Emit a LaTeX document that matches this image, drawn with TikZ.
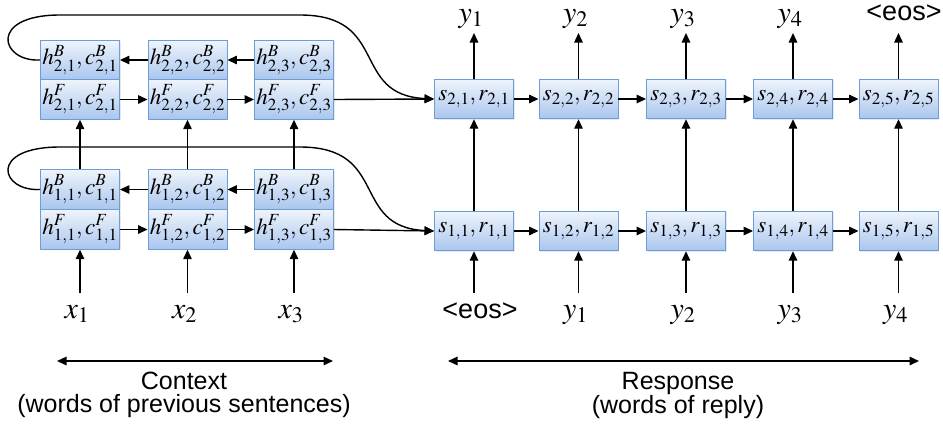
\documentclass[tikz,border=0pt]{standalone}
\usepackage{mathptmx}
\usepackage{fontspec}
\newfontfamily\sansf{Liberation Sans}
\usetikzlibrary{arrows.meta,shadows}
\definecolor{boxtop}{HTML}{EEF4FC}
\definecolor{boxbot}{HTML}{A9C6EE}
\definecolor{boxborder}{HTML}{6C9DD6}
\tikzset{
  cell/.style={draw=boxborder, line width=0.9pt, top color=boxtop, bottom color=boxbot,
    minimum width=79pt, minimum height=39.5pt, inner sep=0pt,
    font=\fontsize{23}{23}\selectfont,
    drop shadow={opacity=0.18, shadow xshift=1.2pt, shadow yshift=-1.2pt}},
  conn/.style={line width=1.4pt, -{Triangle[length=9.5pt,width=8.5pt]}},
  biconn/.style={line width=1.4pt, {Triangle[length=9.5pt,width=8.5pt]}-{Triangle[length=9.5pt,width=8.5pt]}},
  mlab/.style={anchor=base, inner sep=0pt, font=\fontsize{30}{30}\selectfont},
  slab/.style={anchor=base, inner sep=0pt, font=\sansf\fontsize{27}{27}\selectfont},
  captext/.style={anchor=north, inner sep=0pt, align=center, font=\sansf\fontsize{25}{23}\selectfont}
}
\begin{document}
\begin{tikzpicture}[x=1pt,y=-1pt]
\useasboundingbox (0,0) rectangle (943,429);
% left columns
\foreach \i/\x in {1/80,2/187.5,3/294}{
  \node[cell] (hB2\i) at (\x,60) {$h^{B}_{2,\i},c^{B}_{2,\i}$};
  \node[cell] (hF2\i) at (\x,99.5) {$h^{F}_{2,\i},c^{F}_{2,\i}$};
  \node[cell] (hB1\i) at (\x,189.5) {$h^{B}_{1,\i},c^{B}_{1,\i}$};
  \node[cell] (hF1\i) at (\x,229.5) {$h^{F}_{1,\i},c^{F}_{1,\i}$};
  \coordinate (xin\i) at (\x,293);
  \node[mlab] (xl\i) at (\x-3,318) {$x_{\i}$};
}
% right columns
\foreach \j/\x in {1/474,2/578.5,3/686,4/793,5/898.5}{
  \node[cell] (s2\j) at (\x,99) {$s_{2,\j},r_{2,\j}$};
  \node[cell] (s1\j) at (\x,231) {$s_{1,\j},r_{1,\j}$};
  \coordinate (yin\j) at (\x,293);
  \coordinate (yout\j) at (\x,33);
}
% top labels
\node[mlab] (yo1) at (471,22) {$y_{1}$};
\node[mlab] (yo2) at (575.5,22) {$y_{2}$};
\node[mlab] (yo3) at (683,22) {$y_{3}$};
\node[mlab] (yo4) at (790,22) {$y_{4}$};
\node[slab] (yo5) at (904,20) {<eos>};
% bottom labels
\node[slab] (yi1) at (480,318) {<eos>};
\node[mlab] (yi2) at (575.5,318) {$y_{1}$};
\node[mlab] (yi3) at (683,318) {$y_{2}$};
\node[mlab] (yi4) at (790,318) {$y_{3}$};
\node[mlab] (yi5) at (895.5,318) {$y_{4}$};
% left arrows
\foreach \r in {1,2}{
  \draw[conn] (hF\r1.east) -- (hF\r2.west);
  \draw[conn] (hF\r2.east) -- (hF\r3.west);
  \draw[conn] (hB\r2.west) -- (hB\r1.east);
  \draw[conn] (hB\r3.west) -- (hB\r2.east);
}
\foreach \i in {1,2,3}{
  \draw[conn] (hB1\i.north) -- (hF2\i.south);
  \draw[conn] (xin\i) -- (hF1\i.south);
}
% connections context -> response
\draw[conn] (hF23.east) -- (s21.west);
\draw[conn] (hF13.east) -- (s11.west);
\draw[conn] (hB21.west) .. controls (0,62) and (-12,15) .. (60,15) -- (300,15)
  .. controls (390,15) and (350,95) .. (s21.west);
\draw[conn] (hB11.west) .. controls (0,191.5) and (-12,147) .. (60,147) -- (300,147)
  .. controls (390,147) and (350,227) .. (s11.west);
% response arrows
\foreach \a/\b in {1/2,2/3,3/4,4/5}{
  \draw[conn] (s1\a.east) -- (s1\b.west);
  \draw[conn] (s2\a.east) -- (s2\b.west);
}
\foreach \j in {1,...,5}{
  \draw[conn] (s1\j.north) -- (s2\j.south);
  \draw[conn] (s2\j.north) -- (yout\j);
  \draw[conn] (yin\j) -- (s1\j.south);
}
% spans
\coordinate (cl) at (57,361);
\coordinate (cr) at (333,361);
\coordinate (rl) at (448,361);
\coordinate (rr) at (919,361);
\draw[biconn] (cl) -- (cr);
\draw[biconn] (rl) -- (rr);
\node[captext] (ctx) at (184,372) {Context\\(words of previous sentences)};
\node[captext] (rsp) at (678,372) {Response\\(words of reply)};
\end{tikzpicture}
\end{document}
